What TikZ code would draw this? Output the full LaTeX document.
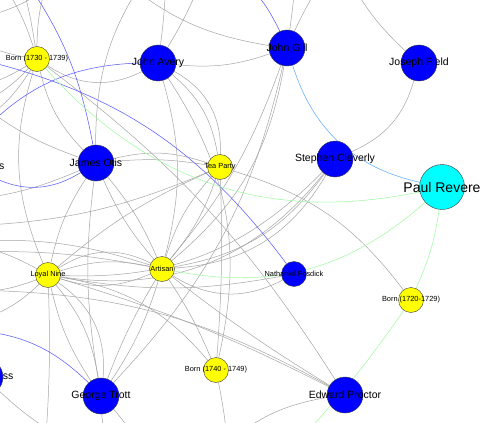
\documentclass[tikz,border=0pt]{standalone}
\usepackage{fontspec}
\setmainfont{Liberation Sans}
\usetikzlibrary{backgrounds}
\definecolor{linkgray}{RGB}{165,165,165}
\definecolor{linkblue}{RGB}{95,95,255}
\definecolor{linksky}{RGB}{100,175,255}
\definecolor{linkgreen}{RGB}{165,250,165}
\definecolor{rimgray}{RGB}{60,60,60}
\definecolor{hubcyan}{RGB}{0,255,255}
\definecolor{tagyellow}{RGB}{255,255,0}
\definecolor{personblue}{RGB}{0,0,255}
\begin{document}
\begin{tikzpicture}[x=1pt, y=-1pt,
  big text/.style={font=\fontsize{10.5}{12}\selectfont, text=black},
  small text/.style={font=\fontsize{7.4}{9}\selectfont, text=black},
  person node/.style={circle, draw=rimgray, line width=0.4pt, fill=personblue, minimum size=36pt, inner sep=0pt, label={[big text]center:#1}},
  minor node/.style={circle, draw=rimgray, line width=0.4pt, fill=personblue, minimum size=25pt, inner sep=0pt, label={[small text]center:#1}},
  tag node/.style={circle, draw=rimgray, line width=0.4pt, fill=tagyellow, minimum size=25pt, inner sep=0pt, label={[small text]center:#1}},
  hub node/.style={circle, draw=rimgray, line width=0.4pt, fill=hubcyan, minimum size=45pt, inner sep=0pt, label={[font=\fontsize{14}{16}\selectfont, text=black]center:#1}},
  link/.style={draw=linkgray, line width=0.5pt},
  blue link/.style={draw=linkblue, line width=0.55pt},
  sky link/.style={draw=linksky, line width=0.55pt},
  green link/.style={draw=linkgreen, line width=0.55pt}]
\useasboundingbox (0,0) rectangle (486,422);
\clip (0,0) rectangle (486,422);

% nodes
\node[tag node={Born (1730 - 1739)}] (b30) at (37,59) {};
\node[person node={John Avery}] (jav) at (158,63) {};
\node[person node={John Gill}] (jgi) at (287,48) {};
\node[person node={Joseph Field}] (jfi) at (419,63) {};
\node[person node={James Otis}] (jot) at (96,163) {};
\node[tag node={Tea Party}] (tea) at (220,167) {};
\node[person node={Stephen Cleverly}] (scl) at (335,159) {};
\node[hub node={Paul Revere}] (prv) at (442,187) {};
\node[tag node={Loyal Nine}] (lny) at (48,275) {};
\node[tag node={Artisan}] (art) at (162,269) {};
\node[minor node={Nathaniel Fosdick}] (nfo) at (294,274) {};
\node[tag node={Born (1720-1729)}] (b20) at (411,300) {};
\node[tag node={Born (1740 - 1749)}] (b40) at (216,370) {};
\node[person node={George Trott}] (gtr) at (101,396) {};
\node[person node={Edward Proctor}] (epr) at (345,395) {};
\node[person node={}] (wes) at (-26,167) {};
\node[person node={}] (wss) at (-15,377) {};
\node[big text, anchor=east, inner sep=0pt] (lbwes) at (4.5,167) {s};
\node[big text, anchor=east, inner sep=0pt] (lbwss) at (13.5,377) {ss};

% ends outside the frame
\coordinate (nA) at (-8,-30);  \coordinate (nB) at (18,-30);
\coordinate (nC) at (52,-30);  \coordinate (nD) at (205,-30);
\coordinate (nE) at (166,-30); \coordinate (nF) at (150,-30);
\coordinate (nG) at (296,-30); \coordinate (nH) at (330,-30);
\coordinate (nI) at (120,-22); \coordinate (nJ) at (345,-30);
\coordinate (nK) at (70,-30);  \coordinate (nB1) at (22,-25);
\coordinate (nJG) at (232,-30);
\coordinate (wA) at (-30,38);  \coordinate (wB) at (-30,88);
\coordinate (wC) at (-30,108); \coordinate (wD) at (-30,128);
\coordinate (wE) at (-30,95);  \coordinate (wF) at (-30,200);
\coordinate (wG) at (-30,226); \coordinate (wH) at (-30,241);
\coordinate (wI) at (-30,252); \coordinate (wJ) at (-30,244);
\coordinate (wK) at (-30,292); \coordinate (wL) at (-30,322);
\coordinate (wM) at (-30,290); \coordinate (wN) at (-30,20);
\coordinate (wJA) at (-25,140); \coordinate (wNF) at (-30,57);
\coordinate (wGT) at (-30,330);
\coordinate (sA) at (45,450);  \coordinate (sB) at (108,450);
\coordinate (sC) at (140,450); \coordinate (sD) at (90,450);
\coordinate (sE) at (228,450); \coordinate (sF) at (225,445);
\coordinate (sEP) at (295,445);

\begin{scope}[on background layer]
\fill[white] (0,0) rectangle (486,422);
\clip (0,0) rectangle (486,422);
% grey links
\draw[link] (nA) to[bend left=10] (b30);
\draw[link] (nB) to[bend left=4] (b30);
\draw[link] (nC) to[bend right=10] (b30);
\draw[link] (b30) to[bend left=8] (wA);
\draw[link] (b30) to[bend left=10] (wB);
\draw[link] (b30) to[bend left=12] (wC);
\draw[link] (b30) to[bend left=14] (wD);
\draw[link] (b30) to[bend right=30] (jav);
\draw[link] (b30) to[bend right=15] (jot);
\draw[link] (b30) to[bend right=20] (lny);
\draw[link] (b30) to[bend left=10] (epr);
\draw[link] (wN) to[bend right=15] (nK);
\draw[link] (jav) to[bend right=5] (nD);
\draw[link] (nE) to[bend left=3] (jav);
\draw[link] (jav) to[bend left=20] (tea);
\draw[link] (jav) to[bend left=32] (tea);
\draw[link] (jav) to[bend left=23] (b40);
\draw[link] (jav) to[bend left=15] (art);
\draw[link] (nF) to[bend right=17] (jot);
\draw[link] (wE) to[bend right=10] (jot);
\draw[link] (jot) to[bend left=16] (tea);
\draw[link] (jot) to[bend left=7] (tea);
\draw[link] (jot) to[bend left=8] (art);
\draw[link] (jot) to[bend right=8] (art);
\draw[link] (wF) to[bend right=8] (jot);
\draw[link] (jot) to[bend right=8] (gtr);
\draw[link] (tea) to[bend left=3] (b40);
\draw[link] (tea) to[bend left=18] (b20);
\draw[link] (tea) to[bend right=8] (lny);
\draw[link] (tea) to[bend left=10] (wG);
\draw[link] (tea) to[bend left=10] (art);
\draw[link] (tea) to[bend right=12] (art);
\draw[link] (art) to[bend right=22] (scl);
\draw[link] (art) to[bend right=28] (scl);
\draw[link] (lny) to[bend right=24] (scl);
\draw[link] (lny) to[bend right=30] (scl);
\draw[link] (jgi) to[bend left=10] (art);
\draw[link] (jgi) to[bend left=20] (art);
\draw[link] (jgi) to[bend left=15] (gtr);
\draw[link] (jgi) to[bend left=12] (jav);
\draw[link] (art) to[bend right=30] (nfo);
\draw[link] (lny) to[bend right=10] (nfo);
\draw[link] (art) to[bend left=5] (b40);
\draw[link] (art) to[bend left=8] (gtr);
\draw[link] (gtr) to[bend left=5] (art);
\draw[link] (art) to[bend right=3] (epr);
\draw[link] (lny) to[bend right=20] (art);
\draw[link] (lny) to[bend left=15] (art);
\draw[link] (lny) to[bend left=30] (art);
\draw[link] (art) to[bend right=10] (wH);
\draw[link] (art) to[bend right=6] (wI);
\draw[link] (lny) to[bend right=8] (wJ);
\draw[link] (lny) to[bend left=10] (wK);
\draw[link] (lny) to[bend left=15] (wL);
\draw[link] (lny) to[bend left=15] (gtr);
\draw[link] (lny) to[bend right=10] (gtr);
\draw[link] (lny) to[bend left=30] (gtr);
\draw[link] (lny) to[bend left=20] (b40);
\draw[link] (lny) to[bend left=5] (epr);
\draw[link] (lny) to[bend left=10] (jot);
\draw[link] (lny) to[bend left=3] (sA);
\draw[link] (gtr) to[bend right=5] (sB);
\draw[link] (gtr) to[bend left=8] (sC);
\draw[link] (wss) to[bend right=10] (sD);
\draw[link] (b40) to[bend left=3] (sE);
\draw[link] (wM) to[bend left=14] (epr);
\draw[link] (sF) to[bend left=15] (epr);
\draw[link] (nG) to[bend left=2] (jgi);
\draw[link] (nH) to[bend right=5] (jgi);
\draw[link] (nI) to[bend right=15] (jgi);
\draw[link] (nJ) to[bend right=10] (jfi);
\draw[link] (jfi) to[bend left=25] (scl);
% coloured links
\draw[blue link] (nB1) to[bend left=12] (jot);
\draw[blue link] (wJA) to[bend left=23] (jav);
\draw[blue link] (wNF) to[bend left=20] (nfo);
\draw[blue link] (jot) to[bend left=30] (wes);
\draw[blue link] (wGT) to[bend left=20] (gtr);
\draw[blue link] (nJG) to[bend left=12] (jgi);
\draw[sky link] (jgi) to[bend right=30] (prv);
\draw[green link] (b30) to[bend right=30] (prv);
\draw[green link] (art) to[bend right=26] (prv);
\draw[green link] (prv) to[bend left=8] (b20);
\draw[green link] (b20) to[bend left=4] (sEP);
\end{scope}
\end{tikzpicture}
\end{document}
